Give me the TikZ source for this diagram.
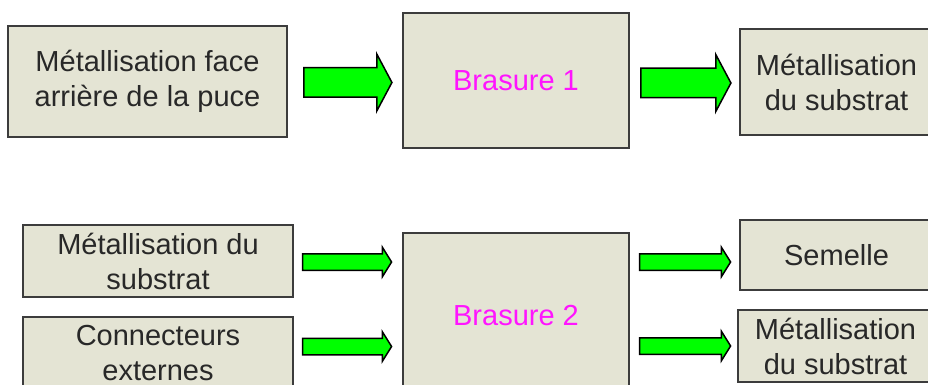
\documentclass[tikz,border=0pt]{standalone}
\usepackage{fontspec}
\setmainfont{Liberation Sans}
\usepackage{tikz}
\usetikzlibrary{shapes, arrows, positioning}

\definecolor{boxfill}{RGB}{228,228,212}
\definecolor{boxline}{RGB}{60,60,60}
\definecolor{boxtext}{RGB}{40,40,40}
\definecolor{brasrose}{RGB}{255,20,255}
\definecolor{flechevert}{RGB}{0,255,0}

\begin{document}
\begin{tikzpicture}[x=1pt, y=-1pt]
    \tikzstyle{bloc} = [draw=boxline, line width=1.5pt, fill=boxfill,
	text=boxtext, align=center, inner sep=0pt,
	font=\fontsize{29}{35}\selectfont]
    \tikzstyle{brasure} = [bloc, text=brasrose]
    \tikzstyle{grosse} = [single arrow, draw=black, line width=1.5pt,
	fill=flechevert, inner sep=0pt, inner ysep=14pt, minimum width=0pt,
	single arrow head extend=13.5pt, single arrow tip angle=124]
    \tikzstyle{fine} = [grosse, inner ysep=7.5pt,
	single arrow head extend=6.5pt, single arrow tip angle=116]

	\clip (0,0) rectangle (928,385);

	\begin{scope}
		\path
			node[bloc, minimum width=279pt, minimum height=111pt]
				(puce) at (147.5,81.5) {Métallisation face\\arrière de la puce}
			node[brasure, minimum width=226pt, minimum height=135pt]
				(bras1) at (516,80.5) {Brasure 1}
			node[bloc, minimum width=193pt, minimum height=106pt]
				(subsA) at (836.5,82) {Métallisation\\du substrat}

			node[grosse, minimum height=88pt] (f1) at (344,82.5) {}
			node[grosse, minimum height=90pt] (f2) at (682,83) {}
		;
	\end{scope}
	\begin{scope}
		\path
			node[bloc, minimum width=270pt, minimum height=72pt]
				(subsB) at (158,261) {Métallisation du\\substrat}
			node[bloc, minimum width=270pt, minimum height=72pt]
				(conn) at (158,353) {Connecteurs\\externes}
			node[brasure, minimum width=226pt, minimum height=165pt]
				(bras2) at (516,315.5) {Brasure 2}
			node[bloc, minimum width=193pt, minimum height=70pt]
				(semelle) at (836.5,255) {Semelle}
			node[bloc, minimum width=195pt, minimum height=72pt]
				(subsC) at (835.5,346) {Métallisation\\du substrat}

			node[fine, minimum height=89pt] (f3) at (344.5,262) {}
			node[fine, minimum height=89pt] (f4) at (344.5,346.5) {}
			node[fine, minimum height=91pt] (f5) at (682.5,262) {}
			node[fine, minimum height=91pt] (f6) at (682.5,346) {}
		;
	\end{scope}
\end{tikzpicture}
\end{document}
